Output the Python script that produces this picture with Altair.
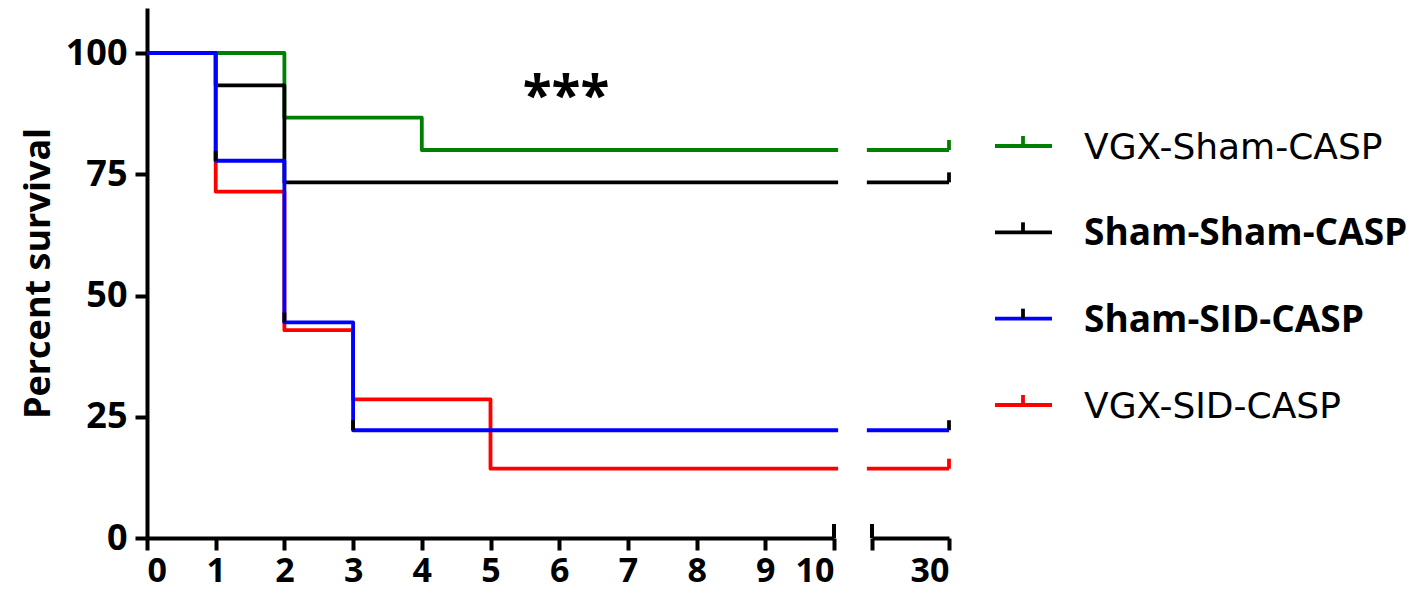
import altair as alt
import pandas as pd

# ---------------- data ----------------
groups = ["VGX-Sham-CASP", "Sham-Sham-CASP", "Sham-SID-CASP", "VGX-SID-CASP"]
line_colors = ["#008000", "#000000", "#0000ff", "#ff0000"]
censor_colors = ["#008000", "#000000", "#000000", "#ff0000"]
label_bold = [False, True, True, False]

green_days = [0, 2, 4]
green_surv = [100, 86.67, 80.0]
black_days = [0, 1, 2]
black_surv = [100, 93.33, 73.33]
blue_days = [0, 1, 2, 3]
blue_surv = [100, 77.78, 44.44, 22.22]
red_days = [0, 1, 2, 3, 5]
red_surv = [100, 71.43, 42.86, 28.57, 14.29]

blue_censor_days = [1, 2, 3]
blue_censor_surv = [77.78, 44.44, 22.22]

left_end = 10
left_line_end = 10.06
right_start = 24
right_line_start = 23.6
right_end = 30
x_ticks_left = list(range(0, 11))
x_ticks_right = [24, 30]
y_ticks = [0, 25, 50, 75, 100]
y_max = 109.28

star_x = [6.1]
star_y = [93]
star_text = ["***"]

FONT = "Open Sans"

series = {
    "VGX-Sham-CASP": (green_days, green_surv),
    "Sham-Sham-CASP": (black_days, black_surv),
    "Sham-SID-CASP": (blue_days, blue_surv),
    "VGX-SID-CASP": (red_days, red_surv),
}

left_rows, right_rows, end_censor_rows = [], [], []
for g, c, cc in zip(groups, line_colors, censor_colors):
    d, s = series[g]
    for di, si in zip(d, s):
        left_rows.append({"group": g, "day": di, "surv": si})
    left_rows.append({"group": g, "day": left_line_end, "surv": s[-1]})
    right_rows.append({"group": g, "day": right_line_start, "surv": s[-1]})
    right_rows.append({"group": g, "day": right_end, "surv": s[-1]})
    end_censor_rows.append({"group": g, "day": right_end, "surv": s[-1], "tcolor": cc})

left_df = pd.DataFrame(left_rows)
right_df = pd.DataFrame(right_rows)
end_censor_df = pd.DataFrame(end_censor_rows)
blue_censor_df = pd.DataFrame({"day": blue_censor_days, "surv": blue_censor_surv,
                               "tcolor": ["#000000"] * len(blue_censor_days)})
legend_df = pd.DataFrame({"group": groups, "color": line_colors,
                          "tcolor": censor_colors, "bold": label_bold})
star_df = pd.DataFrame({"day": star_x, "surv": star_y, "text": star_text})

W_LEFT, W_RIGHT, W_LEG, H = 687, 77, 340, 530
draw_order = ["VGX-Sham-CASP", "Sham-Sham-CASP", "VGX-SID-CASP", "Sham-SID-CASP"]
color_of = dict(zip(groups, line_colors))
LW = 3.8

y_scale = alt.Scale(domain=[0, y_max], nice=False, zero=True)

axis_common = dict(
    domainColor="black", domainWidth=4, tickColor="black", tickWidth=4,
    tickSize=12, labelColor="black", labelFont=FONT,
    labelFontWeight="bold", grid=False,
)

y_axis_left = alt.Axis(values=y_ticks, title="Percent survival", titleFont=FONT,
                       titleFontSize=36, titleFontWeight="bold", titleColor="black",
                       titlePadding=8, labelPadding=8, labelFontSize=36, **axis_common)

x_scale_left = alt.Scale(domain=[0, left_end], nice=False, zero=False)
x_axis_left = alt.Axis(values=x_ticks_left, title=None, labelPadding=4,
                       labelFontSize=34, **axis_common)

x_scale_right = alt.Scale(domain=[right_start, right_end], nice=False, zero=False)
x_axis_right = alt.Axis(values=x_ticks_right, title=None, labelPadding=4, labelFontSize=34,
                        labelExpr="datum.value == 30 ? '30' : ''", **axis_common)

tick_shape = "M0,-1L0,0"


def enc_left():
    return dict(x=alt.X("day:Q", scale=x_scale_left, axis=x_axis_left),
                y=alt.Y("surv:Q", scale=y_scale, axis=y_axis_left))


def enc_right():
    return dict(x=alt.X("day:Q", scale=x_scale_right, axis=x_axis_right),
                y=alt.Y("surv:Q", scale=y_scale, axis=None))


def step_layers(df, enc):
    return [
        alt.Chart(df).transform_filter(alt.datum.group == g)
        .mark_line(interpolate="step-after", strokeWidth=LW,
                   color=color_of[g], strokeJoin="round")
        .encode(**enc())
        for g in draw_order
    ]


# ---------------- left panel ----------------
blue_ticks = alt.Chart(blue_censor_df).mark_point(
    shape=tick_shape, size=400, filled=False, strokeWidth=LW, opacity=1
).encode(stroke=alt.Color("tcolor:N", scale=None), **enc_left())

break_left = alt.Chart(pd.DataFrame({"day": [left_end], "surv": [0]})).mark_point(
    shape=tick_shape, size=784, filled=False, strokeWidth=4, opacity=1, color="black"
).encode(**enc_left())

stars = alt.Chart(star_df).mark_text(
    font=FONT, fontSize=53, fontWeight="bold", color="black", baseline="middle", dy=11
).encode(text="text:N", **enc_left())

left = alt.layer(*step_layers(left_df, enc_left), blue_ticks, break_left, stars).properties(
    width=W_LEFT, height=H)

# ---------------- right panel ----------------
end_ticks = alt.Chart(end_censor_df).mark_point(
    shape=tick_shape, size=400, filled=False, strokeWidth=LW, opacity=1
).encode(stroke=alt.Color("tcolor:N", scale=None), **enc_right())

break_right = alt.Chart(pd.DataFrame({"day": [right_start], "surv": [0]})).mark_point(
    shape=tick_shape, size=784, filled=False, strokeWidth=4, opacity=1, color="black"
).encode(**enc_right())

right = alt.layer(*step_layers(right_df, enc_right), end_ticks, break_right).properties(
    width=W_RIGHT, height=H)

# ---------------- legend panel ----------------
leg_y = alt.Y("group:N", sort=groups, axis=None,
              scale=alt.Scale(type="point", range=[138, 397], padding=0))

leg_lines = alt.Chart(legend_df).mark_rule(strokeWidth=LW).encode(
    x=alt.value(16), x2=alt.value(73), y=leg_y, color=alt.Color("color:N", scale=None))
leg_ticks = alt.Chart(legend_df).mark_point(
    shape=tick_shape, size=400, filled=False, strokeWidth=LW, opacity=1
).encode(x=alt.value(44), y=leg_y, stroke=alt.Color("tcolor:N", scale=None))
leg_bold = alt.Chart(legend_df).transform_filter(alt.datum.bold).mark_text(
    align="left", baseline="middle", font=FONT, fontSize=37, fontWeight="bold",
    color="black", dy=2
).encode(x=alt.value(105), y=leg_y, text="group:N")
leg_norm = alt.Chart(legend_df).transform_filter(~alt.datum.bold).mark_text(
    align="left", baseline="middle", font="DejaVu Sans", fontSize=36, fontWeight="normal",
    color="black", dy=2
).encode(x=alt.value(105), y=leg_y, text="group:N")

legend = alt.layer(leg_lines, leg_ticks, leg_bold, leg_norm).properties(
    width=W_LEG, height=H)

chart = alt.hconcat(left, right, legend, spacing=22).properties(
    padding={"left": 12, "top": 0, "right": 0, "bottom": 12}
).configure_view(stroke=None)

chart.save("out.html", embed_options={"renderer": "svg", "actions": False})
